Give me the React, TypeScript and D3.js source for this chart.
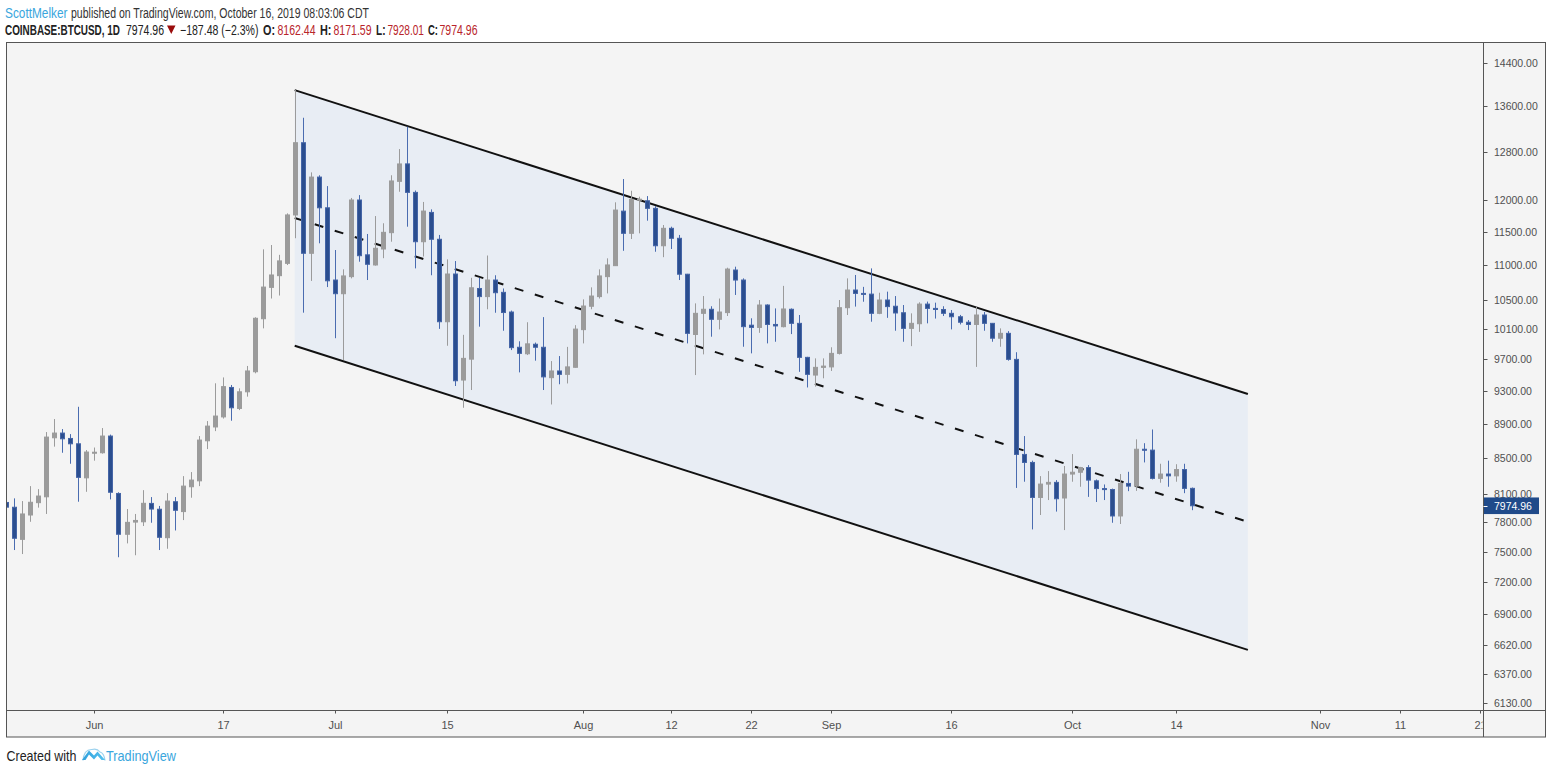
import React, { useLayoutEffect, useRef, useState } from "react";
import * as d3 from "d3";

// ---------- DATA ----------
const firstDay = "2019-05-21"; // daily candles, consecutive days
const opens = [
  8010, 7959, 7625, 7877, 8008, 8071, 8733, 8788, 8725, 8663, 8278,
  8560, 8560, 8753, 8107, 7677, 7803, 7806, 8000, 7938, 7642, 8018, 7913, 8180, 8245, 8698, 8860, 8980, 9340, 9082, 9286, 9538, 10238, 10676, 10844, 11024, 11760, 12951, 11173, 12370, 11873,
  10781, 10586, 10830, 11997, 11150, 11000, 11237, 11485, 12300, 12590, 12120, 11347, 11800, 11384, 10197, 10868, 9433, 9700, 10660, 10545, 10781, 10605, 10330, 9855, 9770, 9895, 9855, 9463, 9548, 9505, 9595,
  10090, 10410, 10545, 10830, 10990, 11820, 11475, 12000, 11985, 11864, 11286, 11552, 11399, 10865, 10025, 10312, 10368, 10230, 10322, 10926, 10781, 10150, 10120, 10427, 10160, 10130, 10368, 10175, 9723, 9496, 9594,
  9600, 9775, 10390, 10638, 10590, 10580, 10312, 10497, 10410, 10320, 10107, 10170, 10440, 10380, 10365, 10312, 10265, 10190, 10160, 10289, 10175, 9975, 10040, 9697, 8541, 8450, 8064, 8209, 8228, 8058,
  8320, 8340, 8392, 8245, 8160, 8150, 7867, 8216, 8187, 8600, 8590, 8272, 8320, 8300, 8370, 8162.44,
];
const highs = [
  8090, 8054, 8025, 8187, 8154, 8800, 8954, 8835, 8776, 9102, 8591,
  8620, 8847, 8770, 8120, 7940, 7888, 8143, 8068, 7973, 8110, 8068, 8297, 8342, 8753, 8930, 9392, 9466, 9371, 9329, 9612, 10258, 11232, 11297, 11150, 11785, 13895, 13390, 12448, 12400, 12222,
  11222, 10936, 12030, 12076, 11465, 11743, 11630, 12400, 12842, 13231, 12150, 11966, 11848, 11450, 11083, 11058, 10020, 10813, 10813, 11140, 10850, 10660, 10350, 9934, 10190, 9917, 10260, 9675, 9740, 9860, 10150,
  10506, 10676, 10936, 11098, 11960, 12338, 12146, 12050, 12060, 11900, 11603, 11577, 11450, 10870, 10450, 10553, 10410, 10518, 10960, 10975, 10805, 10244, 10497, 10437, 10380, 10697, 10380, 10289, 9730, 9710, 9710,
  9855, 10497, 10805, 10854, 10683, 10950, 10600, 10615, 10553, 10427, 10312, 10465, 10475, 10460, 10410, 10358, 10290, 10220, 10405, 10330, 10180, 10107, 10070, 9790, 8753, 8470, 8297, 8353, 8253, 8410,
  8545, 8400, 8420, 8260, 8205, 8160, 8320, 8345, 8715, 8670, 8830, 8435, 8470, 8430, 8435, 8171.59,
];
const lows = [
  7820, 7517, 7477, 7806, 7955, 7888, 8630, 8560, 8435, 8018, 8125,
  8470, 8550, 8043, 7445, 7584, 7465, 7762, 7796, 7517, 7530, 7716, 7824, 8061, 8187, 8602, 8811, 8960, 8934, 9062, 9226, 9518, 10107, 10518, 10560, 10999, 11400, 10321, 10768, 11323, 10680,
  9975, 9688, 10805, 11048, 10781, 10990, 11100, 11347, 12130, 11577, 10950, 11125, 10850, 10100, 9875, 9358, 9090, 9308, 10130, 10368, 10320, 10075, 9818, 9530, 9753, 9680, 9308, 9130, 9380, 9390, 9590,
  9906, 10368, 10518, 10590, 10985, 11210, 11388, 11475, 11670, 11196, 11115, 11237, 10781, 9906, 9496, 9762, 9995, 10093, 10275, 10568, 9862, 9775, 10047, 9906, 9928, 10120, 10030, 9537, 9340, 9350, 9455,
  9548, 9760, 10289, 10405, 10473, 10197, 10300, 10250, 10075, 9928, 9870, 10060, 10175, 10240, 10275, 10093, 10160, 10084, 9600, 10075, 9928, 9862, 9680, 8167, 8235, 7727, 7877, 8036, 7913, 7720,
  8235, 8180, 8070, 8015, 8036, 7796, 7783, 8132, 8135, 8450, 8260, 8224, 8180, 8235, 8110, 7928.01,
];
const closes = [
  7960, 7636, 7888, 8012, 8079, 8741, 8788, 8721, 8663, 8283, 8568,
  8566, 8753, 8120, 7677, 7800, 7820, 8001, 7940, 7646, 8025, 7927, 8187, 8253, 8706, 8870, 8990, 9350, 9090, 9286, 9548, 10244, 10680, 10854, 11060, 11760, 12951, 11173, 12370, 11873, 10770,
  10586, 10840, 11997, 11137, 11010, 11248, 11490, 12306, 12589, 12120, 11347, 11821, 11384, 10197, 10868, 9424, 9710, 10670, 10545, 10781, 10600, 10323, 9850, 9775, 9900, 9855, 9473, 9548, 9505, 9600, 10097,
  10413, 10553, 10840, 11000, 11837, 11475, 12008, 12010, 11864, 11286, 11552, 11399, 10865, 10040, 10312, 10368, 10230, 10330, 10940, 10781, 10130, 10120, 10427, 10160, 10140, 10372, 10175, 9723, 9505, 9594, 9610,
  9775, 10390, 10638, 10590, 10580, 10312, 10497, 10405, 10317, 10107, 10175, 10440, 10380, 10365, 10312, 10265, 10190, 10160, 10289, 10175, 9975, 10040, 9697, 8541, 8450, 8064, 8209, 8228, 8050, 8320,
  8340, 8392, 8253, 8160, 8150, 7867, 8216, 8187, 8600, 8590, 8272, 8320, 8300, 8370, 8162, 7974.96,
];

const priceTicks = [14400, 13600, 12800, 12000, 11500, 11000, 10500, 10100, 9700, 9300, 8900, 8500, 8100, 7800, 7500, 7200, 6900, 6620, 6370, 6130];
const timeTicks = ["2019-06-01", "2019-06-17", "2019-07-01", "2019-07-15", "2019-08-01", "2019-08-12", "2019-08-22", "2019-09-01", "2019-09-16", "2019-10-01", "2019-10-14", "2019-11-01", "2019-11-11", "2019-11-21"];
const timeLabels = ["Jun", "17", "Jul", "15", "Aug", "12", "22", "Sep", "16", "Oct", "14", "Nov", "11", "21"];

// parallel channel (anchors and prices)
const channelDates = ["2019-06-26", "2019-10-23"];
const channelUpper = [13894, 9259];
const channelLower = [9875, 6579];

const lastPrice = 7974.96;

// ---------- LAYOUT ----------
const W = 1552;
const H = 774;
const plotL = 7;
const plotR = 1483.5;
const plotT = 43;
const plotB = 710;
const frameR = 1545.5;
const frameB = 737;

const DAY = 86400000;
const parse = (s: string) => new Date(s + "T00:00:00Z");

const UP_FILL = "#9b9b9b";
const DN_FILL = "#2b4e8f";
const DN_STROKE = "#4565a6";
const DN_WICK = "#4a6cb0";
const AXIS_TEXT = "#505050";
const HEAD_FONT = "'Liberation Sans', Arial, sans-serif";
const AX_FONT = "'Liberation Sans', Arial, sans-serif";
const HF = 14;

type Seg = { t: string; x: number; w: number; fill: string; bold?: boolean };
const line1: Seg[] = [
  { t: "ScottMelker", x: 5, w: 62.5, fill: "#3aa6dd" },
  { t: "published on TradingView.com, October 16, 2019 08:03:06 CDT", x: 71, w: 298, fill: "#333" },
];
const line2: Seg[] = [
  { t: "COINBASE:BTCUSD, 1D", x: 5, w: 115, fill: "#222", bold: true },
  { t: "7974.96", x: 126, w: 38, fill: "#222" },
  { t: "−187.48 (−2.3%)", x: 180, w: 78.5, fill: "#222" },
  { t: "O:", x: 263, w: 12, fill: "#222", bold: true },
  { t: "8162.44", x: 277.5, w: 38, fill: "#b8242a" },
  { t: "H:", x: 320, w: 11.5, fill: "#222", bold: true },
  { t: "8171.59", x: 333.5, w: 38, fill: "#b8242a" },
  { t: "L:", x: 376, w: 9.5, fill: "#222", bold: true },
  { t: "7928.01", x: 387.5, w: 36.5, fill: "#b8242a" },
  { t: "C:", x: 428, w: 10, fill: "#222", bold: true },
  { t: "7974.96", x: 439.5, w: 38, fill: "#b8242a" },
];

// Text compressed horizontally to a given width (the reference uses a narrow face)
function FitText(props: {
  x: number;
  y: number;
  w: number;
  fill: string;
  bold?: boolean;
  size: number;
  children: string;
}) {
  const ref = useRef<SVGTextElement>(null);
  const [s, setS] = useState(0.85);
  useLayoutEffect(() => {
    const el = ref.current;
    if (!el) return;
    const n = el.getComputedTextLength();
    if (n > 0) setS(props.w / n);
  }, [props.w, props.children]);
  return (
    <text
      ref={ref}
      transform={`translate(${props.x},${props.y}) scale(${s},1)`}
      fontFamily={HEAD_FONT}
      fontSize={props.size}
      fontWeight={props.bold ? "bold" : "normal"}
      fill={props.fill}
    >
      {props.children}
    </text>
  );
}

export default function App() {
  const jun1 = parse("2019-06-01").getTime();
  const x = d3
    .scaleUtc()
    .domain([new Date(jun1 - 10.92 * DAY), new Date(jun1 + 173.42 * DAY)])
    .range([plotL, plotR]);
  const y = d3.scaleLog().domain([6071, 14796]).range([plotB, plotT]);

  const start = parse(firstDay).getTime();
  const candles = opens.map((o, i) => ({
    date: new Date(start + i * DAY),
    o,
    h: highs[i],
    l: lows[i],
    c: closes[i],
  }));

  const cd = channelDates.map(parse);
  const mid = channelUpper.map((u, i) => Math.sqrt(u * channelLower[i]));
  const poly = [
    [x(cd[0]), y(channelUpper[0])],
    [x(cd[1]), y(channelUpper[1])],
    [x(cd[1]), y(channelLower[1])],
    [x(cd[0]), y(channelLower[0])],
  ];
  const line = d3.line();

  const bw = 5;
  const lastY = y(lastPrice);

  return (
    <svg
      width={W}
      height={H}
      style={{ position: "absolute", left: 0, top: 0, background: "#ffffff" }}
    >
      <defs>
        <clipPath id="plotClip">
          <rect x={plotL} y={plotT} width={plotR - plotL} height={plotB - plotT} />
        </clipPath>
        <clipPath id="timeClip">
          <rect x={plotL} y={plotB} width={plotR - plotL - 1} height={frameB - plotB} />
        </clipPath>
        <linearGradient id="tvlogo" x1="0" y1="0" x2="1" y2="0">
          <stop offset="0" stopColor="#2e9fdc" />
          <stop offset="1" stopColor="#56c2ef" />
        </linearGradient>
      </defs>

      {/* header */}
      {line1.map((s, i) => (
        <FitText key={"a" + i} x={s.x} y={18} w={s.w} fill={s.fill} bold={s.bold} size={HF}>
          {s.t}
        </FitText>
      ))}
      {line2.map((s, i) => (
        <FitText key={"b" + i} x={s.x} y={34.5} w={s.w} fill={s.fill} bold={s.bold} size={HF}>
          {s.t}
        </FitText>
      ))}
      <path d="M167,25.5 L175.5,25.5 L171.25,34 Z" fill="#9a0c0c" />

      {/* frame background */}
      <rect x={6.5} y={42.5} width={frameR - 6.5} height={frameB - 42.5} fill="#f4f4f4" stroke="#555" strokeWidth={1} />

      {/* channel */}
      <g clipPath="url(#plotClip)">
        <path d={line(poly as [number, number][]) + "Z"} fill="#e8edf4" />
        <path
          d={line([
            [x(cd[0]), y(channelUpper[0])],
            [x(cd[1]), y(channelUpper[1])],
          ]) as string}
          stroke="#111"
          strokeWidth={2}
          fill="none"
        />
        <path
          d={line([
            [x(cd[0]), y(channelLower[0])],
            [x(cd[1]), y(channelLower[1])],
          ]) as string}
          stroke="#111"
          strokeWidth={2}
          fill="none"
        />
        <path
          d={line([
            [x(cd[0]), y(mid[0])],
            [x(cd[1]), y(mid[1])],
          ]) as string}
          stroke="#111"
          strokeWidth={2}
          strokeDasharray="9 12"
          fill="none"
        />

        {/* candles */}
        {candles.map((c, i) => {
          const cx = Math.round(x(c.date)) + 0.5;
          const up = c.c >= c.o;
          const top = y(Math.max(c.o, c.c));
          const bot = y(Math.min(c.o, c.c));
          const bh = Math.max(1, bot - top);
          return (
            <g key={i}>
              <line x1={cx} x2={cx} y1={y(c.h)} y2={y(c.l)} stroke={up ? UP_FILL : DN_WICK} strokeWidth={1} />
              <rect
                x={cx - bw / 2 + 0.5}
                y={top}
                width={bw - 1}
                height={bh}
                fill={up ? UP_FILL : DN_FILL}
                stroke={up ? UP_FILL : DN_STROKE}
                strokeWidth={1}
              />
            </g>
          );
        })}
      </g>

      {/* axes lines */}
      <line x1={plotR} x2={plotR} y1={42.5} y2={frameB} stroke="#555" strokeWidth={1} />
      <line x1={6.5} x2={frameR} y1={plotB + 0.5} y2={plotB + 0.5} stroke="#555" strokeWidth={1} />

      {/* price axis */}
      {priceTicks.map((p) => {
        const py = Math.round(y(p)) + 0.5;
        return (
          <g key={p}>
            <line x1={plotR} x2={plotR + 4} y1={py} y2={py} stroke="#555" strokeWidth={1} />
            <text x={1494} y={py + 3.8} fontFamily={AX_FONT} fontSize={10.5} fill={AXIS_TEXT}>
              {p.toFixed(2)}
            </text>
          </g>
        );
      })}
      <rect x={plotR + 0.5} y={lastY - 8.3} width={55} height={16.6} fill="#1f4a8a" />
      <line x1={plotR} x2={plotR + 4} y1={Math.round(lastY) + 0.5} y2={Math.round(lastY) + 0.5} stroke="#fff" strokeWidth={1} />
      <text x={1494} y={lastY + 3.8} fontFamily={AX_FONT} fontSize={10.5} fill="#ffffff">
        {lastPrice.toFixed(2)}
      </text>

      {/* time axis */}
      <g clipPath="url(#timeClip)">
        {timeTicks.map((t, i) => {
          const tx = Math.round(x(parse(t))) + 0.5;
          return (
            <g key={t}>
              <line x1={tx} x2={tx} y1={plotB} y2={plotB + 3.5} stroke="#555" strokeWidth={1} />
              <text x={tx} y={729} textAnchor="middle" fontFamily={AX_FONT} fontSize={11} fill={AXIS_TEXT}>
                {timeLabels[i]}
              </text>
            </g>
          );
        })}
      </g>

      {/* footer */}
      <FitText x={6.5} y={761} w={70} fill="#222" size={14}>
        Created with
      </FitText>
      <path
        d="M82,760 L89,750.5 L94,755.5 L97.5,751.5 L105,760 L101.5,760 L97.5,755.5 L94,759.5 L89,754.5 L85.5,760 Z"
        fill="url(#tvlogo)"
      />
      <path d="M83,760.5 Q84,749 92,749.5 Q97,748 100,752 Q104,753 105,760.5" fill="none" stroke="#3aa6dd" strokeWidth={1.2} opacity={0.5} />
      <FitText x={106} y={761} w={70} fill="#3aa6dd" size={14}>
        TradingView
      </FitText>
    </svg>
  );
}
